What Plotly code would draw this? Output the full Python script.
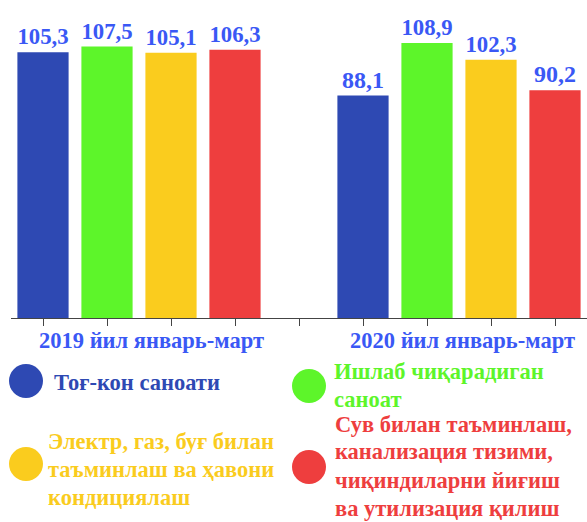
import plotly.graph_objects as go

# periods and industry series
periods = ["2019 йил январь-март", "2020 йил январь-март"]
series = ["Тоғ-кон саноати", "Ишлаб чиқарадиган саноат",
          "Электр, газ, буғ билан таъминлаш ва ҳавони кондициялаш",
          "Сув билан таъминлаш, канализация тизими, чиқиндиларни йиғиш ва утилизация қилиш"]
mining = [105.3, 88.1]
manufacturing = [107.5, 108.9]
electricity = [105.1, 102.3]
water = [106.3, 90.2]
colors = ["#2E49B3", "#5DF52A", "#FACC1E", "#EE3E3E"]

# legend text broken into lines as in the picture
legend_lines = [
    ["Тоғ-кон саноати"],
    ["Ишлаб чиқарадиган", "саноат"],
    ["Электр, газ, буғ билан", "таъминлаш ва ҳавони", "кондициялаш"],
    ["Сув билан таъминлаш,", "канализация тизими,", "чиқиндиларни йиғиш", "ва утилизация қилиш"],
]

values = [mining, manufacturing, electricity, water]
label_color = "#3A58F5"
serif = "Liberation Serif, Times New Roman, serif"

fig = go.Figure()
for j, (name, vals) in enumerate(zip(series, values)):
    xs = [i * 5 + j for i in range(len(periods))]
    fig.add_trace(go.Bar(
        x=xs, y=vals, name=name, width=0.8,
        marker=dict(color=colors[j], line=dict(width=0)),
        text=[f"{v:.1f}".replace(".", ",") for v in vals],
        textposition="outside", cliponaxis=False,
        textfont=dict(family=serif, size=24, color=label_color, weight="bold"),
        showlegend=False,
    ))

W, H = 587, 522
L, R, T, B = 11, 0, 10, 204
pw, ph = W - L - R, H - T - B


def px(x):
    return (x - L) / pw


def py(y):
    return (H - B - y) / ph


fig.update_layout(
    width=W, height=H,
    margin=dict(l=L, r=R, t=T, b=B),
    plot_bgcolor="white", paper_bgcolor="white",
    xaxis=dict(range=[-0.5, 8.5], tickvals=list(range(9)), ticktext=[""] * 9,
               ticks="outside", ticklen=7, tickcolor="#444", showline=True,
               linecolor="#444", linewidth=1, showgrid=False, zeroline=False),
    yaxis=dict(range=[0, 122], visible=False, showgrid=False, zeroline=False),
)

# group labels under the axis
label_x = [151, 462]
for i, p in enumerate(periods):
    fig.add_annotation(x=px(label_x[i]), y=py(340), xref="paper", yref="paper",
                       text=f"<b>{p}</b>", showarrow=False,
                       font=dict(family=serif, size=22.5, color=label_color),
                       xanchor="center", yanchor="middle")

# legend: circles and coloured text
circles = [(26, 381), (309, 386), (26, 464), (309, 467)]
text_x = [52, 332, 46, 333]
text_y = [[382], [371, 399], [441, 469, 498], [424, 452, 480, 508]]
for j, lines in enumerate(legend_lines):
    cx, cy = circles[j]
    fig.add_shape(type="circle", xref="paper", yref="paper",
                  xsizemode="pixel", ysizemode="pixel",
                  xanchor=px(cx), yanchor=py(cy),
                  x0=-17, x1=17, y0=-17, y1=17,
                  fillcolor=colors[j], line=dict(width=0))
    for line, ly in zip(lines, text_y[j]):
        fig.add_annotation(x=px(text_x[j]), y=py(ly), xref="paper", yref="paper",
                           text=f"<b>{line}</b>", showarrow=False,
                           xanchor="left", yanchor="middle",
                           font=dict(family=serif, size=22.5, color=colors[j]))

fig.write_html("out.html", config={"displayModeBar": False},
               post_script="document.body.style.margin='0';")
